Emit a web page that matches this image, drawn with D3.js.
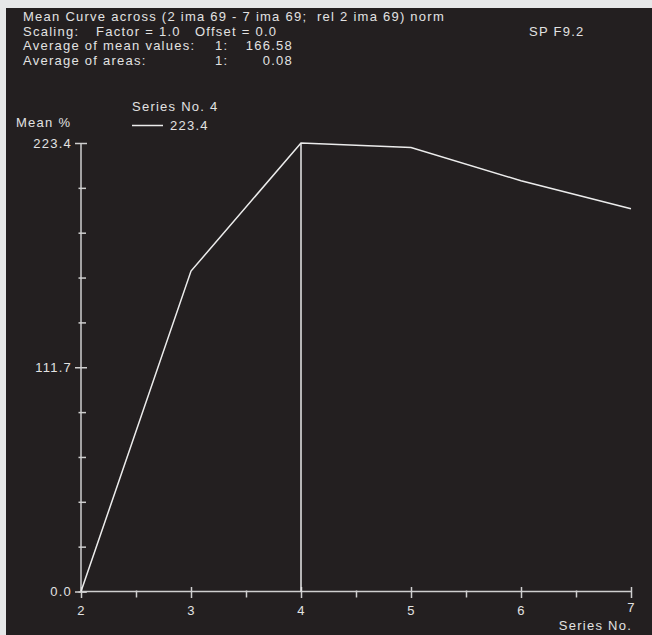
<!DOCTYPE html>
<html>
<head>
<meta charset="utf-8">
<script src="https://cdn.jsdelivr.net/npm/d3@7"></script>
<style>
  body { margin: 0; background: #e6e7e8; }
  svg { display: block; }
  text { font-family: "Liberation Sans", Arial, sans-serif; fill: #e2e2e2; letter-spacing: 1.25px; white-space: pre; }
</style>
</head>
<body>
<div id="chart"></div>
<script>
// data
var seriesNo = [2, 3, 4, 5, 6, 7];
var meanPct = [0, 159.6, 223.4, 221.2, 204.6, 190.7];
var yTickValues = [0, 111.7, 223.4];
var xTickValues = [2, 3, 4, 5, 6, 7];
var markedSeries = 4;

var W = 652, H = 635;
var margin = {top: 143, left: 81, right: 21, bottom: 43.5};
var width = W - margin.left - margin.right,
    height = H - margin.top - margin.bottom;
var fs = "13px";

var svg = d3.select("#chart")
  .append("svg")
    .attr("width", W)
    .attr("height", H);

// dark panel
svg.append("rect")
  .attr("x", 6).attr("y", 8)
  .attr("width", W - 6).attr("height", H - 8)
  .attr("fill", "#231f20");

// header texts
var header = svg.append("g").attr("font-size", fs);
header.append("text").attr("x", 23).attr("y", 21)
  .text("Mean Curve across (2 ima 69 - 7 ima 69;  rel 2 ima 69) norm");
header.append("text").attr("x", 23).attr("y", 35.5).text("Scaling:");
header.append("text").attr("x", 96).attr("y", 35.5).text("Factor = 1.0");
header.append("text").attr("x", 195).attr("y", 35.5).text("Offset = 0.0");
header.append("text").attr("x", 529).attr("y", 35.5).text("SP F9.2");
header.append("text").attr("x", 23).attr("y", 50).text("Average of mean values:");
header.append("text").attr("x", 215).attr("y", 50).text("1:");
header.append("text").attr("x", 293).attr("y", 50).attr("text-anchor", "end").text("166.58");
header.append("text").attr("x", 23).attr("y", 64.5).text("Average of areas:");
header.append("text").attr("x", 215).attr("y", 64.5).text("1:");
header.append("text").attr("x", 293).attr("y", 64.5).attr("text-anchor", "end").text("0.08");

var g = svg.append("g")
  .attr("transform", "translate(" + margin.left + "," + margin.top + ")");

var x = d3.scaleLinear().domain([2, 7]).range([0, width]);
var y = d3.scaleLinear().domain([0, 223.4]).range([height, 0]);

var axisColor = "#cfcfcf";

// minor ticks
var xMinor = d3.axisBottom(x).tickValues(d3.range(2.5, 7, 1)).tickSize(6).tickFormat("");
var gxm = g.append("g").attr("transform", "translate(0," + height + ")").call(xMinor);
gxm.select(".domain").remove();
gxm.selectAll(".tick line").attr("y1", -1).attr("stroke", axisColor).attr("stroke-width", 1.5);

var yMinor = d3.axisLeft(y)
  .tickValues(d3.range(0, 5).map(function(i) { return i * 22.34; }).concat(d3.range(6, 10).map(function(i) { return i * 22.34; })))
  .tickSize(2.5).tickFormat("");
var gym = g.append("g").call(yMinor);
gym.select(".domain").remove();
gym.selectAll(".tick line").attr("x1", 5).attr("stroke", axisColor).attr("stroke-width", 1.5);

// X axis
var xAxis = d3.axisBottom(x).tickValues(xTickValues).tickSize(6.5).tickPadding(8)
  .tickFormat(d3.format("d"));
var gx = g.append("g")
  .attr("transform", "translate(0," + height + ")")
  .call(xAxis);
gx.select(".domain").attr("d", "M0,0H" + width).attr("stroke", axisColor).attr("stroke-width", 1.5);
gx.selectAll(".tick line").attr("y1", -4.5).attr("stroke", axisColor).attr("stroke-width", 1.5);
gx.selectAll(".tick text").attr("font-size", fs).attr("fill", "#e2e2e2")
  .attr("font-family", "Liberation Sans, Arial, sans-serif");
gx.selectAll(".tick").filter(function(d) { return d === 7; }).select("text").attr("dy", "0.45em");

// Y axis
var yAxis = d3.axisLeft(y).tickValues(yTickValues).tickSize(6).tickPadding(3)
  .tickFormat(d3.format(".1f"));
var gy = g.append("g").call(yAxis);
gy.select(".domain").attr("d", "M0," + height + "V0").attr("stroke", axisColor).attr("stroke-width", 1.5);
gy.selectAll(".tick line").attr("x1", 6).attr("x2", -6).attr("stroke", axisColor).attr("stroke-width", 1.5);
gy.selectAll(".tick text").attr("font-size", fs).attr("fill", "#e2e2e2")
  .attr("font-family", "Liberation Sans, Arial, sans-serif");

// axis titles
g.append("text").attr("x", 16 - margin.left).attr("y", 127 - margin.top)
  .attr("font-size", fs).text("Mean %");
g.append("text").attr("x", width + 1).attr("y", 630 - margin.top)
  .attr("text-anchor", "end").attr("font-size", fs).text("Series No.");

// marker line at series 4
g.append("line")
  .attr("x1", x(markedSeries)).attr("x2", x(markedSeries))
  .attr("y1", y(223.4)).attr("y2", height)
  .attr("stroke", "#e8e8e8").attr("stroke-width", 1.5);

// curve
var line = d3.line()
  .x(function(d, i) { return x(seriesNo[i]); })
  .y(function(d) { return y(d); });
g.append("path")
  .datum(meanPct)
  .attr("d", line)
  .attr("fill", "none")
  .attr("stroke", "#ececec")
  .attr("stroke-width", 1.5);

// legend
var leg = svg.append("g").attr("font-size", fs);
leg.append("text").attr("x", 132).attr("y", 111).text("Series No. " + markedSeries);
leg.append("line").attr("x1", 132).attr("x2", 163).attr("y1", 125.5).attr("y2", 125.5)
  .attr("stroke", "#ececec").attr("stroke-width", 1.5);
leg.append("text").attr("x", 170).attr("y", 130).text(d3.format(".1f")(meanPct[2]));
</script>
</body>
</html>
